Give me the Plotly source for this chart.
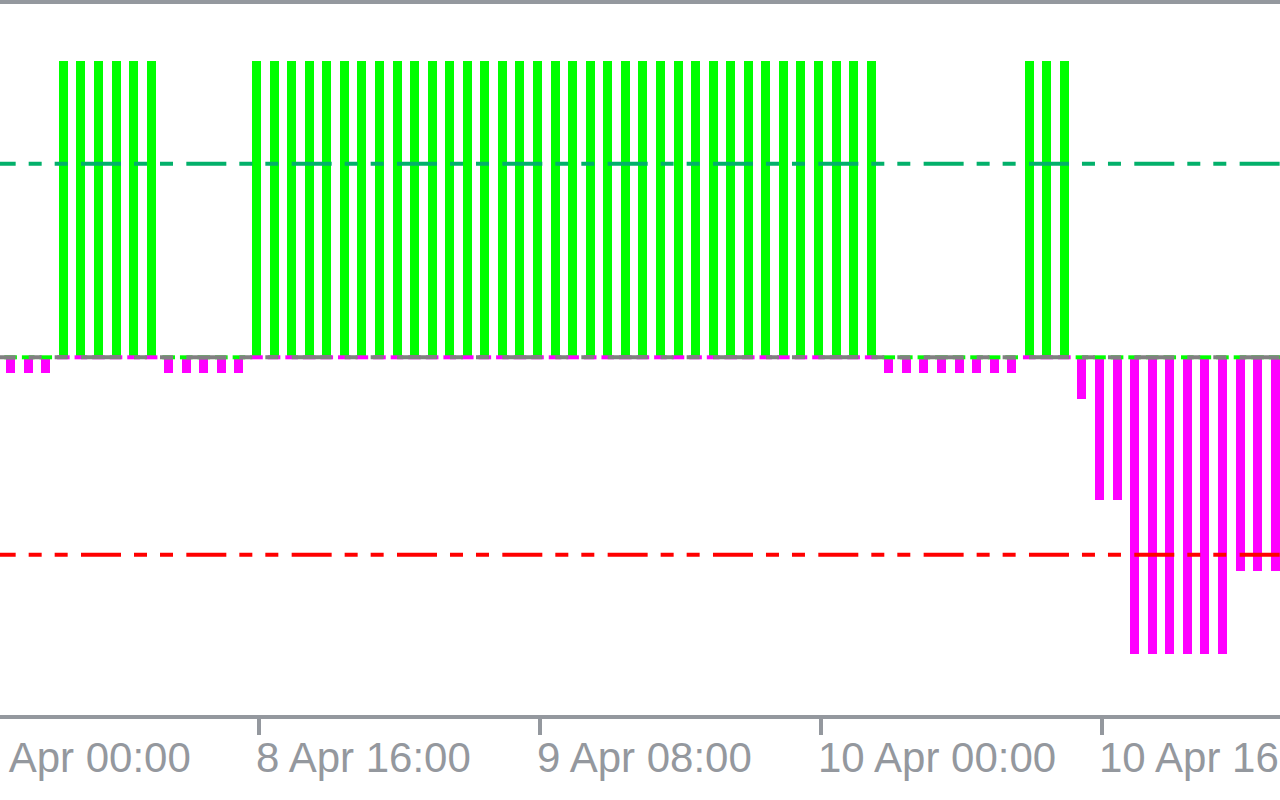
import plotly.graph_objects as go
import pandas as pd

# ---------------- data (hourly bars) ----------------
bar_start = "2024-04-08 02:00"
green_vals = [0, 0, 0,
              1.5, 1.5, 1.5, 1.5, 1.5, 1.5,
              0, 0, 0, 0, 0,
              1.5, 1.5, 1.5, 1.5, 1.5, 1.5, 1.5, 1.5, 1.5, 1.5, 1.5, 1.5,
              1.5, 1.5, 1.5, 1.5, 1.5, 1.5, 1.5, 1.5, 1.5, 1.5, 1.5, 1.5,
              1.5, 1.5, 1.5, 1.5, 1.5, 1.5, 1.5, 1.5, 1.5, 1.5, 1.5, 1.5,
              0, 0, 0, 0, 0, 0, 0, 0,
              1.5, 1.5, 1.5,
              0, 0, 0, 0, 0, 0, 0, 0, 0, 0, 0, 0]
magenta_vals = [-0.08, -0.08, -0.08,
                0, 0, 0, 0, 0, 0,
                -0.08, -0.08, -0.08, -0.08, -0.08,
                0, 0, 0, 0, 0, 0, 0, 0, 0, 0, 0, 0,
                0, 0, 0, 0, 0, 0, 0, 0, 0, 0, 0, 0,
                0, 0, 0, 0, 0, 0, 0, 0, 0, 0, 0, 0,
                -0.08, -0.08, -0.08, -0.08, -0.08, -0.08, -0.08, -0.08,
                0, 0, 0,
                -0.21, -0.72, -0.72,
                -1.5, -1.5, -1.5, -1.5, -1.5, -1.5,
                -1.08, -1.08, -1.08]
level_upper = 0.98
level_lower = -1.0
zero_level = 0.0
tick_start = "2024-04-08 00:00"
tick_step_hours = 16
tick_format = "%-d %b %H:%M"

times = pd.date_range(bar_start, periods=len(green_vals), freq="h")

# ---------------- geometry / style ----------------
W, H = 1280, 800
GREEN = "#00FF00"
MAGENTA = "#FF00FF"
TEAL = "#02B06A"
RED = "#FF0000"
ZGRAY = "#808080"
AXGRAY = "#94989E"
FONT = "Liberation Sans"
FSIZE = 42

px_per_hour = 17.5625
ms_per_px = 3600000.0 / px_per_hour
anchor_time = pd.Timestamp("2024-04-08 16:00")
anchor_px = 259.0
r0 = anchor_time - pd.to_timedelta(anchor_px * ms_per_px, unit="ms")
r1 = anchor_time + pd.to_timedelta((W - anchor_px) * ms_per_px, unit="ms")

M_TOP, M_BOT = 4, 85
zero_px = 357.3
val_per_px = 1.5 / 296.3
y_top = (zero_px - M_TOP) * val_per_px
y_bot = -((H - M_BOT) - zero_px) * val_per_px

bar_w = 9 * ms_per_px
bar_off = -7 * ms_per_px
bit_shift = pd.to_timedelta(-2.5 * ms_per_px, unit="ms")

fig = go.Figure()
fig.add_trace(go.Bar(x=times, y=green_vals, width=bar_w, offset=bar_off,
                     marker=dict(color=GREEN, line=dict(width=0)), hoverinfo="skip"))
fig.add_trace(go.Bar(x=times, y=magenta_vals, width=bar_w, offset=bar_off,
                     marker=dict(color=MAGENTA, line=dict(width=0)), hoverinfo="skip"))

g_zero_x = [t + bit_shift for t, v in zip(times, green_vals) if v == 0]
m_zero_x = [t + bit_shift for t, v in zip(times, magenta_vals) if v == 0]
fig.add_trace(go.Scatter(x=g_zero_x, y=[zero_level] * len(g_zero_x), mode="markers",
                         marker=dict(symbol="line-ew", size=9, line=dict(width=4, color=GREEN)),
                         hoverinfo="skip"))
fig.add_trace(go.Scatter(x=m_zero_x, y=[zero_level] * len(m_zero_x), mode="markers",
                         marker=dict(symbol="line-ew", size=9, line=dict(width=4, color=MAGENTA)),
                         hoverinfo="skip"))

dash = "40px,13px,13px,13px,13px,13.33px"
dash_start = -24.33 / W
for lvl, col in [(zero_level, ZGRAY), (level_upper, TEAL), (level_lower, RED)]:
    fig.add_shape(type="line", xref="paper", yref="y", x0=dash_start, x1=1.05,
                  y0=lvl, y1=lvl, layer="above",
                  line=dict(color=col, width=4, dash=dash))

# partially visible first tick label (its tick lies left of the visible range)
first_tick = pd.Timestamp(tick_start)
first_frac = (first_tick - r0) / (r1 - r0)
fig.add_annotation(text=first_tick.strftime("%-d %b %H:%M"), xref="paper", yref="paper",
                   x=first_frac, y=0, xanchor="left", yanchor="top", showarrow=False,
                   xshift=-4, yshift=-17, font=dict(family=FONT, size=FSIZE, color=AXGRAY))

fig.update_layout(
    width=W, height=H, margin=dict(l=0, r=0, t=M_TOP, b=M_BOT, autoexpand=False),
    paper_bgcolor="white", plot_bgcolor="white", showlegend=False,
    barmode="overlay", bargap=0,
    xaxis=dict(type="date", range=[r0, r1], tick0=tick_start, automargin=False,
               dtick=tick_step_hours * 3600000, tickformat=tick_format,
               ticks="outside", ticklen=16, tickwidth=4, tickcolor=AXGRAY,
               showline=True, linewidth=4, linecolor=AXGRAY, mirror=True,
               showgrid=False, zeroline=False,
               ticklabelposition="outside right", ticklabeloverflow="allow",
               ticklabelshift=-7, ticklabelstandoff=3,
               tickfont=dict(family=FONT, size=FSIZE, color=AXGRAY)),
    yaxis=dict(visible=False, range=[y_bot, y_top], fixedrange=True, automargin=False),
)

fig.write_html("out.html", config={"displayModeBar": False},
               post_script="document.body.style.margin='0';")
